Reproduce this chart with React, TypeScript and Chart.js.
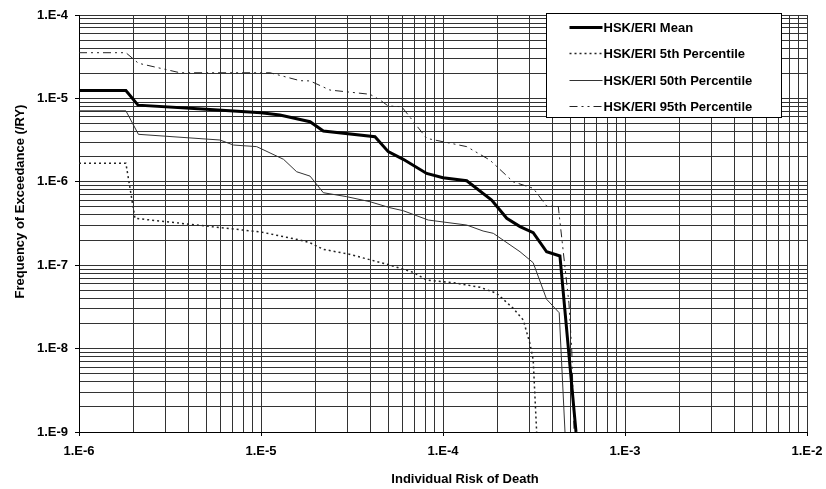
import React, { useEffect, useRef } from 'react';
import { Chart, registerables } from 'chart.js';
Chart.register(...registerables);

const FONT = "'Liberation Sans', Arial, Helvetica, sans-serif";

// Series data (x: individual risk of death, y: frequency of exceedance /RY)
const meanX = [1e-6, 1.81e-6, 2.11e-6, 5.0e-6, 1e-5, 1.27e-5, 1.86e-5, 2.2e-5, 4.23e-5, 5.0e-5, 6.05e-5, 8.13e-5, 1.0e-4, 1.35e-4, 1.85e-4, 2.24e-4, 2.65e-4, 3.13e-4, 3.71e-4, 4.39e-4, 5.38e-4];
const meanY = [1.24e-5, 1.24e-5, 8.3e-6, 7.4e-6, 6.74e-6, 6.32e-6, 5.26e-6, 4.06e-6, 3.47e-6, 2.3e-6, 1.86e-6, 1.26e-6, 1.12e-6, 1.03e-6, 6.05e-7, 3.65e-7, 2.9e-7, 2.45e-7, 1.45e-7, 1.29e-7, 1e-9];

const p5X = [1e-6, 1.81e-6, 2.03e-6, 1e-5, 1.64e-5, 1.86e-5, 2.2e-5, 3.02e-5, 4.91e-5, 6.87e-5, 8.13e-5, 1.14e-4, 1.6e-4, 1.97e-4, 2.43e-4, 2.76e-4, 3.0e-4, 3.13e-4, 3.27e-4];
const p5Y = [1.67e-6, 1.67e-6, 3.65e-7, 2.5e-7, 2.0e-7, 1.86e-7, 1.55e-7, 1.36e-7, 1.03e-7, 8.2e-8, 6.65e-8, 6.17e-8, 5.43e-8, 4.6e-8, 3.04e-8, 2.2e-8, 1.16e-8, 7.3e-9, 1e-9];

const p50X = [1e-6, 1.81e-6, 2.12e-6, 5.95e-6, 7.05e-6, 9.47e-6, 1.33e-5, 1.57e-5, 1.86e-5, 2.2e-5, 2.96e-5, 3.97e-5, 5.11e-5, 6.05e-5, 8.3e-5, 1.35e-4, 1.66e-4, 1.89e-4, 2.65e-4, 3.13e-4, 3.71e-4, 4.35e-4, 4.68e-4];
const p50Y = [7.1e-6, 7.1e-6, 3.71e-6, 3.17e-6, 2.76e-6, 2.64e-6, 1.86e-6, 1.32e-6, 1.17e-6, 7.4e-7, 6.63e-7, 5.77e-7, 4.89e-7, 4.5e-7, 3.48e-7, 3.03e-7, 2.57e-7, 2.41e-7, 1.45e-7, 1.07e-7, 3.9e-8, 2.69e-8, 1e-9];

const p95X = [1e-6, 1.81e-6, 2.12e-6, 3.59e-6, 1.12e-5, 1.64e-5, 1.86e-5, 2.39e-5, 3.97e-5, 4.51e-5, 5.0e-5, 5.93e-5, 8.13e-5, 1.35e-4, 1.81e-4, 2.43e-4, 3.13e-4, 3.71e-4, 4.3e-4, 4.92e-4, 5.1e-4, 5.25e-4];
const p95Y = [3.53e-5, 3.53e-5, 2.64e-5, 2.03e-5, 2.03e-5, 1.63e-5, 1.62e-5, 1.26e-5, 1.12e-5, 9.57e-6, 8.11e-6, 7.95e-6, 3.32e-6, 2.64e-6, 1.82e-6, 1.0e-6, 8.36e-7, 5.13e-7, 5.05e-7, 3.5e-8, 9.6e-9, 1e-9];

const seriesLabels = ['HSK/ERI Mean', 'HSK/ERI 5th Percentile', 'HSK/ERI 50th Percentile', 'HSK/ERI 95th Percentile'];

const xExpMin = -6, xExpMax = -2;
const yExpMin = -9, yExpMax = -4;
const xTitle = 'Individual Risk of Death';
const yTitle = 'Frequency of Exceedance (/RY)';

const pts = (xs: number[], ys: number[]) => xs.map((x, i) => ({ x, y: ys[i] }));

const logTicks = (lo: number, hi: number) => {
  const out: { value: number }[] = [];
  for (let e = lo; e < hi; e++) {
    for (let m = 1; m <= 9; m++) out.push({ value: Number((m * Math.pow(10, e)).toPrecision(6)) });
  }
  out.push({ value: Math.pow(10, hi) });
  return out;
};

const isPow10 = (v: number) => {
  const l = Math.log10(v);
  return Math.abs(l - Math.round(l)) < 1e-9;
};
const fmt = (v: any) => {
  const n = Number(v);
  return isPow10(n) ? '1.E' + Math.round(Math.log10(n)) : '';
};

const overlayPlugin = {
  id: 'overlay',
  afterDatasetsDraw(chart: any) {
    const ctx = chart.ctx;
    const ca = chart.chartArea;
    ctx.save();
    const bx = ca.right - 26.5;
    const bw = 235;
    const x0 = Math.round(bx - bw) + 0.5;
    const y0 = ca.top - 1.5;
    const bh = 104;
    ctx.fillStyle = '#ffffff';
    ctx.fillRect(x0, y0, bw, bh);
    ctx.strokeStyle = '#000';
    ctx.lineWidth = 1;
    ctx.setLineDash([]);
    ctx.strokeRect(x0, y0, bw, bh);
    chart.data.datasets.forEach((ds: any, i: number) => {
      const cy = Math.round(y0 + 13.5 + i * 26.3);
      ctx.save();
      ctx.beginPath();
      ctx.setLineDash(ds.borderDash || []);
      ctx.lineWidth = ds.borderWidth;
      ctx.strokeStyle = ds.borderColor;
      ctx.moveTo(x0 + 23, cy + 0.5);
      ctx.lineTo(x0 + 56, cy + 0.5);
      ctx.stroke();
      ctx.restore();
      ctx.fillStyle = '#000';
      ctx.font = `bold 13px ${FONT}`;
      ctx.textBaseline = 'middle';
      ctx.textAlign = 'left';
      ctx.fillText(ds.label, x0 + 57, cy + 1);
    });
    ctx.restore();
  },
  afterDraw(chart: any) {
    const ctx = chart.ctx;
    const ca = chart.chartArea;
    ctx.save();
    ctx.fillStyle = '#000';
    ctx.font = `bold 13px ${FONT}`;
    ctx.textAlign = 'center';
    ctx.textBaseline = 'middle';
    ctx.fillText(xTitle, (ca.left + ca.right) / 2 + 22, ca.bottom + 47);
    ctx.translate(20, (ca.top + ca.bottom) / 2 - 22);
    ctx.rotate(-Math.PI / 2);
    ctx.fillText(yTitle, 0, 0);
    ctx.restore();
  },
};

const zeroPad = (s: any) => {
  s.paddingLeft = 0;
  s.paddingRight = 0;
  s.paddingTop = 0;
  s.paddingBottom = 0;
};

export default function App() {
  const ref = useRef<HTMLCanvasElement>(null);
  useEffect(() => {
    const gridColor = '#333';
    const tickFont = { family: FONT, size: 13, weight: 'bold' as const };
    const chart = new Chart(ref.current!, {
      type: 'line',
      data: {
        datasets: [
          { label: seriesLabels[0], data: pts(meanX, meanY), borderColor: '#000', borderWidth: 3, pointRadius: 0, tension: 0, borderDash: [] },
          { label: seriesLabels[1], data: pts(p5X, p5Y), borderColor: '#222', borderWidth: 1.5, pointRadius: 0, tension: 0, borderDash: [2, 3] },
          { label: seriesLabels[2], data: pts(p50X, p50Y), borderColor: '#333', borderWidth: 1, pointRadius: 0, tension: 0, borderDash: [] },
          { label: seriesLabels[3], data: pts(p95X, p95Y), borderColor: '#222', borderWidth: 1, pointRadius: 0, tension: 0, borderDash: [8, 4, 2, 4, 2, 4] },
        ],
      },
      options: {
        animation: false,
        responsive: false,
        layout: { padding: { top: 15, right: 19, left: 0, bottom: 0 } },
        plugins: { legend: { display: false }, tooltip: { enabled: false } },
        scales: {
          x: {
            type: 'logarithmic',
            min: Math.pow(10, xExpMin),
            max: Math.pow(10, xExpMax),
            afterBuildTicks: (s: any) => { s.ticks = logTicks(xExpMin, xExpMax); },
            afterFit: (s: any) => { s.height = 57; zeroPad(s); },
            ticks: { autoSkip: false, maxRotation: 0, minRotation: 0, callback: fmt, font: tickFont, color: '#000', padding: 8 },
            grid: {
              color: gridColor, lineWidth: 1, tickLength: 4, drawTicks: true,
              tickColor: (c: any) => (c.tick && isPow10(c.tick.value) ? '#000' : 'rgba(0,0,0,0)'),
            },
            border: { color: '#000', width: 1 },
          },
          y: {
            type: 'logarithmic',
            min: Math.pow(10, yExpMin),
            max: Math.pow(10, yExpMax),
            afterBuildTicks: (s: any) => { s.ticks = logTicks(yExpMin, yExpMax); },
            afterFit: (s: any) => { s.width = 79; zeroPad(s); },
            ticks: { autoSkip: false, callback: fmt, font: tickFont, color: '#000', padding: 7 },
            grid: {
              color: gridColor, lineWidth: 1, tickLength: 4, drawTicks: true,
              tickColor: (c: any) => (c.tick && isPow10(c.tick.value) ? '#000' : 'rgba(0,0,0,0)'),
            },
            border: { color: '#000', width: 1 },
          },
        },
      },
      plugins: [overlayPlugin],
    } as any);
    return () => chart.destroy();
  }, []);
  return (
    <div style={{ position: 'absolute', left: 0, top: 0, width: 826, height: 489, background: '#fff' }}>
      <canvas ref={ref} width={826} height={489} />
    </div>
  );
}
